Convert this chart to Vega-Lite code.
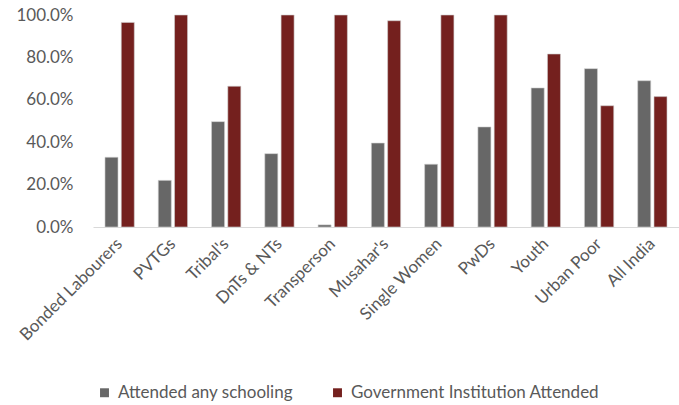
{
  "$schema": "https://vega.github.io/schema/vega-lite/v6.json",
  "width": 586,
  "height": 212,
  "autosize": "none",
  "padding": {"left": 93, "top": 15, "right": 0, "bottom": 178},
  "background": "white",
  "config": {
    "font": "Lato",
    "view": {"stroke": null}
  },
  "data": {
    "values": [
      {"group": "Bonded Labourers", "series": "Attended any schooling", "value": 0.329},
      {"group": "Bonded Labourers", "series": "Government Institution Attended", "value": 0.965},
      {"group": "PVTGs", "series": "Attended any schooling", "value": 0.22},
      {"group": "PVTGs", "series": "Government Institution Attended", "value": 1.0},
      {"group": "Tribal's", "series": "Attended any schooling", "value": 0.497},
      {"group": "Tribal's", "series": "Government Institution Attended", "value": 0.664},
      {"group": "DnTs & NTs", "series": "Attended any schooling", "value": 0.346},
      {"group": "DnTs & NTs", "series": "Government Institution Attended", "value": 1.0},
      {"group": "Transperson", "series": "Attended any schooling", "value": 0.01},
      {"group": "Transperson", "series": "Government Institution Attended", "value": 1.0},
      {"group": "Musahar's", "series": "Attended any schooling", "value": 0.396},
      {"group": "Musahar's", "series": "Government Institution Attended", "value": 0.973},
      {"group": "Single Women", "series": "Attended any schooling", "value": 0.296},
      {"group": "Single Women", "series": "Government Institution Attended", "value": 1.0},
      {"group": "PwDs", "series": "Attended any schooling", "value": 0.472},
      {"group": "PwDs", "series": "Government Institution Attended", "value": 1.0},
      {"group": "Youth", "series": "Attended any schooling", "value": 0.656},
      {"group": "Youth", "series": "Government Institution Attended", "value": 0.816},
      {"group": "Urban Poor", "series": "Attended any schooling", "value": 0.747},
      {"group": "Urban Poor", "series": "Government Institution Attended", "value": 0.572},
      {"group": "All India", "series": "Attended any schooling", "value": 0.69},
      {"group": "All India", "series": "Government Institution Attended", "value": 0.615}
    ]
  },
  "mark": {"type": "bar", "stroke": "#d0d0d0", "strokeWidth": 0.6},
  "encoding": {
    "x": {
      "field": "group",
      "type": "nominal",
      "sort": null,
      "scale": {"paddingInner": 0.45, "paddingOuter": 0.225},
      "axis": {
        "title": null,
        "labelAngle": -45,
        "labelAlign": "right",
        "labelBaseline": "middle",
        "labelFontSize": 17,
        "labelColor": "#595959",
        "labelPadding": 14,
        "labelLimit": 300,
        "ticks": false,
        "domainColor": "#d9d9d9",
        "domainWidth": 1
      }
    },
    "xOffset": {
      "field": "series",
      "type": "nominal",
      "sort": ["Attended any schooling", "Government Institution Attended"],
      "scale": {"paddingInner": 0.2}
    },
    "y": {
      "field": "value",
      "type": "quantitative",
      "scale": {"domain": [0, 1], "nice": false},
      "axis": {
        "title": null,
        "format": ".1%",
        "values": [0, 0.2, 0.4, 0.6, 0.8, 1.0],
        "grid": false,
        "domain": false,
        "ticks": false,
        "labelFontSize": 17,
        "labelColor": "#595959",
        "labelPadding": 20
      }
    },
    "color": {
      "field": "series",
      "type": "nominal",
      "sort": ["Attended any schooling", "Government Institution Attended"],
      "scale": {
        "domain": ["Attended any schooling", "Government Institution Attended"],
        "range": ["#676767", "#74201e"]
      },
      "legend": {
        "title": null,
        "orient": "none",
        "direction": "horizontal",
        "legendX": 3,
        "legendY": 369,
        "symbolType": "square",
        "symbolSize": 80,
        "symbolStrokeWidth": 0,
        "labelFontSize": 17,
        "labelColor": "#595959",
        "labelOffset": 5,
        "columnPadding": 36,
        "labelLimit": 400
      }
    }
  }
}
